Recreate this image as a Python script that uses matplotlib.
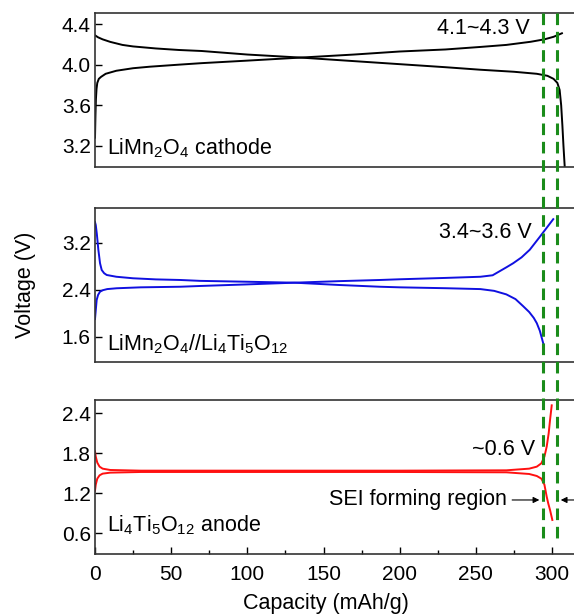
import matplotlib
matplotlib.use("Agg")
import matplotlib.pyplot as plt
from matplotlib.lines import Line2D
from matplotlib.transforms import blended_transform_factory

plt.rcParams['font.family'] = ['Liberation Sans', 'DejaVu Sans']
plt.rcParams['mathtext.default'] = 'regular'

# LiMn2O4 half cell
cat_chg_x = [0, 0.3, 0.6, 1.0, 1.5, 2.5, 4, 7, 14, 25, 36, 55, 70, 100, 135, 170, 200, 230, 253, 270, 286, 295, 301, 306.5]
cat_chg_v = [3.28, 3.50, 3.66, 3.76, 3.82, 3.86, 3.88, 3.91, 3.94, 3.965, 3.98, 4.0, 4.015, 4.04, 4.07, 4.10, 4.13, 4.15, 4.175, 4.195, 4.226, 4.25, 4.275, 4.31]
cat_dis_x = [0, 2, 5, 10, 18, 25, 40, 55, 70, 100, 135, 170, 200, 230, 253, 275, 290, 297, 301, 303.5, 305, 306, 306.8, 307.5, 308.3]
cat_dis_v = [4.29, 4.27, 4.25, 4.225, 4.195, 4.18, 4.16, 4.145, 4.135, 4.10, 4.07, 4.035, 4.005, 3.975, 3.95, 3.93, 3.91, 3.89, 3.86, 3.82, 3.75, 3.6, 3.4, 3.2, 3.0]

# LiMn2O4//Li4Ti5O12 full cell
full_dis_x = [0, 0.5, 1.2, 2.2, 3.3, 4.4, 6, 7.7, 14, 25, 40, 56, 69, 100, 131, 160, 187, 200, 230, 253, 262, 270, 276, 281, 285, 288, 290, 292, 294.3]
full_dis_v = [3.55, 3.50, 3.35, 3.08, 2.85, 2.735, 2.68, 2.65, 2.62, 2.594, 2.575, 2.565, 2.55, 2.535, 2.519, 2.48, 2.45, 2.44, 2.425, 2.41, 2.38, 2.32, 2.24, 2.12, 2.02, 1.92, 1.83, 1.70, 1.48]
full_chg_x = [0, 0.5, 1.1, 2, 3.3, 5, 8, 14.2, 30, 56, 69, 100, 131, 160, 187, 200, 230, 253, 261, 266, 270, 274.5, 280, 285.4, 292, 300.8]
full_chg_v = [1.90, 2.05, 2.225, 2.31, 2.366, 2.39, 2.41, 2.424, 2.44, 2.45, 2.463, 2.49, 2.519, 2.545, 2.565, 2.577, 2.60, 2.62, 2.645, 2.72, 2.78, 2.85, 2.95, 3.08, 3.30, 3.60]

# Li4Ti5O12 half cell
an_up_x = [0, 0.5, 1.5, 3, 5, 10, 30, 100, 200, 270, 285, 290, 293, 295, 296.5, 297.8, 298.7, 299.8]
an_up_v = [1.83, 1.75, 1.66, 1.60, 1.57, 1.55, 1.54, 1.54, 1.54, 1.545, 1.57, 1.60, 1.65, 1.75, 1.9, 2.1, 2.3, 2.52]
an_lo_x = [0, 0.5, 1.5, 3, 5, 10, 30, 200, 270, 285, 290, 293, 295, 296.5, 297.5, 298.7, 300.2]
an_lo_v = [1.24, 1.33, 1.42, 1.47, 1.495, 1.51, 1.52, 1.52, 1.515, 1.49, 1.46, 1.42, 1.33, 1.15, 1.05, 0.95, 0.80]

sei_bounds = [294.3, 303.1]

x_ticks = [0, 50, 100, 150, 200, 250, 300]
y_ticks = [[3.2, 3.6, 4.0, 4.4], [1.6, 2.4, 3.2], [0.6, 1.2, 1.8, 2.4]]
y_lims = [(2.99, 4.51), (1.164, 3.785), (0.294, 2.6)]

fig = plt.figure(figsize=(5.74, 6.14), dpi=100)
W, H = 574, 614
left = 95 / W
right = 1.0148
boxes = [(13, 167), (208.3, 362.3), (400, 553.7)]
axes = []
for (top, bot) in boxes:
    ax = fig.add_axes([left, 1 - bot / H, right - left, (bot - top) / H])
    axes.append(ax)

ax1, ax2, ax3 = axes
ax1.plot(cat_chg_x, cat_chg_v, color='black', lw=1.4)
ax1.plot(cat_dis_x, cat_dis_v, color='black', lw=1.4)
ax2.plot(full_chg_x, full_chg_v, color='#1010e0', lw=1.4)
ax2.plot(full_dis_x, full_dis_v, color='#1010e0', lw=1.4)
ax3.plot(an_up_x, an_up_v, color='#ff1010', lw=1.4)
ax3.plot(an_lo_x, an_lo_v, color='#ff1010', lw=1.4)

for i, ax in enumerate(axes):
    ax.set_xlim(0, 320)
    ax.set_ylim(*y_lims[i])
    ax.set_yticks(y_ticks[i])
    ax.set_yticklabels(['%.1f' % t for t in y_ticks[i]])
    ax.tick_params(axis='y', direction='in', length=5, width=1, labelsize=15, pad=3)
    for s in ax.spines.values():
        s.set_color('#333333')
        s.set_linewidth(1.2)
    if i < 2:
        ax.tick_params(axis='x', bottom=False, labelbottom=False)

ax3.set_xticks(x_ticks)
ax3.set_xticks([25, 75, 125, 175, 225, 275], minor=True)
ax3.tick_params(axis='x', which='major', direction='in', length=5, width=1, labelsize=15, pad=8)
ax3.tick_params(axis='x', which='minor', direction='in', length=3, width=1)

# panel labels and voltage windows
fs = 15.5
ax1.text(7.9, 3.112, r'LiMn$_2$O$_4$ cathode', fontsize=fs, va='baseline')
ax2.text(7.9, 1.374, r'LiMn$_2$O$_4$//Li$_4$Ti$_5$O$_{12}$', fontsize=fs, va='baseline')
ax3.text(7.9, 0.624, r'Li$_4$Ti$_5$O$_{12}$ anode', fontsize=fs, va='baseline')
ax1.text(285.6, 4.36, '4.1~4.3 V', fontsize=fs, ha='right', va='center')
ax2.text(286.9, 3.38, '3.4~3.6 V', fontsize=fs, ha='right', va='center')
ax3.text(288.8, 1.85, '~0.6 V', fontsize=fs, ha='right', va='center')

ax3.text(270.5, 1.10, 'SEI forming region', fontsize=fs, ha='right', va='center')
ax3.annotate('', xy=(sei_bounds[0] - 0.8, 1.10), xytext=(272, 1.10),
             arrowprops=dict(arrowstyle='-|>', color='black', lw=0.8, mutation_scale=9))
ax3.annotate('', xy=(sei_bounds[1] + 0.8, 1.10), xytext=(318, 1.10),
             arrowprops=dict(arrowstyle='-|>', color='black', lw=0.8, mutation_scale=9))

# dashed boundaries of the SEI region running through all panels
trans = blended_transform_factory(ax3.transData, fig.transFigure)
for xb in sei_bounds:
    fig.add_artist(Line2D([xb, xb], [1 - 13 / H, 1 - 540 / H], transform=trans,
                          color='#1a8c1a', lw=2.2, linestyle=(0, (3.8, 2.2))))

fig.text(25 / W, 1 - 285 / H, 'Voltage (V)', rotation=90, fontsize=15.5, ha='center', va='center')
fig.text(326 / W, 1 - 603 / H, 'Capacity (mAh/g)', fontsize=15.5, ha='center', va='center')

fig.savefig('out.png', dpi=100)
